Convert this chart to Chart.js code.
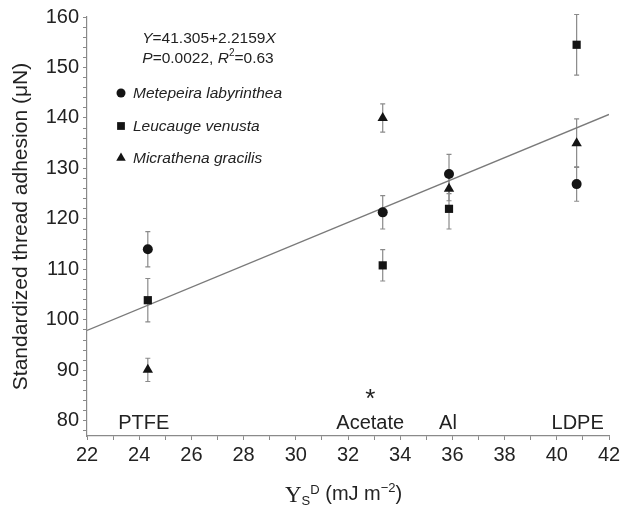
<!DOCTYPE html>
<html>
<head>
<meta charset="utf-8">
<script src="https://cdn.jsdelivr.net/npm/chart.js@4.4.0/dist/chart.umd.min.js"></script>
<style>
  html, body { margin: 0; padding: 0; background: #fff; }
  #wrap { width: 632px; height: 506px; }
</style>
</head>
<body>
<div id="wrap"><canvas id="chart"></canvas></div>
<script>
// surfaces and their dispersive surface energy (x)
const surfaces = ['PTFE', 'Acetate', 'Al', 'LDPE'];
const surfaceEnergy = [24.33, 33.33, 35.87, 40.76];

// standardized thread adhesion per species (y) with error bars
const metepeira = [114.0, 121.3, 128.9, 126.9];
const metepeiraErr = [3.5, 3.3, 3.9, 3.4];
const leucauge = [103.9, 110.8, 122.0, 154.5];
const leucaugeErr = [4.3, 3.1, 4.0, 6.0];
const micrathena = [90.1, 140.0, 126.0, 135.0];
const micrathenaErr = [2.3, 2.8, 2.4, 4.8];

// regression line as drawn
const fitX = [22, 42];
const fitY = [97.9, 140.7];

// axis ticks
const xMajor = [22, 24, 26, 28, 30, 32, 34, 36, 38, 40, 42];
const yMajor = [80, 90, 100, 110, 120, 130, 140, 150, 160];

const SANS = "'Liberation Sans', Arial, sans-serif";
const SERIF = "'Liberation Serif', 'Times New Roman', serif";
const INK = '#141414';
const TEXT = '#222';
const AXIS = '#8a8a8a';

const species = [
  { label: 'Metepeira labyrinthea', values: metepeira, err: metepeiraErr, style: 'circle', radius: 5 },
  { label: 'Leucauge venusta', values: leucauge, err: leucaugeErr, style: 'rect', radius: 5.8 },
  { label: 'Micrathena gracilis', values: micrathena, err: micrathenaErr, style: 'triangle', radius: 6 }
];

function toPoints(xs, ys) {
  return xs.map((x, i) => ({ x: x, y: ys[i] }));
}

const datasets = species.map(s => ({
  label: s.label,
  data: toPoints(surfaceEnergy, s.values),
  pointStyle: s.style,
  pointRadius: s.radius,
  pointBackgroundColor: INK,
  pointBorderColor: INK,
  pointBorderWidth: 0,
  showLine: false,
  order: 1
}));

datasets.unshift({
  label: 'fit',
  type: 'line',
  data: toPoints(fitX, fitY),
  borderColor: '#7a7a7a',
  borderWidth: 1.3,
  pointRadius: 0,
  fill: false,
  order: 2
});

// error bars, drawn under the markers
const errorBars = {
  id: 'errorBars',
  beforeDatasetsDraw(chart) {
    const { ctx, scales: { x, y } } = chart;
    ctx.save();
    ctx.strokeStyle = AXIS;
    ctx.lineWidth = 1.2;
    species.forEach(s => {
      s.values.forEach((v, i) => {
        const px = x.getPixelForValue(surfaceEnergy[i]);
        const top = y.getPixelForValue(v + s.err[i]);
        const bot = y.getPixelForValue(v - s.err[i]);
        ctx.beginPath();
        ctx.moveTo(px, top); ctx.lineTo(px, bot);
        ctx.moveTo(px - 2.5, top); ctx.lineTo(px + 2.5, top);
        ctx.moveTo(px - 2.5, bot); ctx.lineTo(px + 2.5, bot);
        ctx.stroke();
      });
    });
    ctx.restore();
  }
};

function drawRuns(ctx, runs, startX) {
  let cx = startX;
  runs.forEach(r => {
    ctx.font = r.font;
    ctx.fillText(r.t, cx, r.y);
    cx += ctx.measureText(r.t).width;
  });
  return cx;
}

function runsWidth(ctx, runs) {
  let w = 0;
  runs.forEach(r => { ctx.font = r.font; w += ctx.measureText(r.t).width; });
  return w;
}

function marker(ctx, style, cx, cy, r) {
  ctx.beginPath();
  if (style === 'circle') {
    ctx.arc(cx, cy, r, 0, Math.PI * 2);
  } else if (style === 'rect') {
    const h = r * Math.SQRT1_2;
    ctx.rect(cx - h, cy - h, 2 * h, 2 * h);
  } else {
    ctx.moveTo(cx, cy - r);
    ctx.lineTo(cx + r * 0.866, cy + r * 0.5);
    ctx.lineTo(cx - r * 0.866, cy + r * 0.5);
    ctx.closePath();
  }
  ctx.fill();
}

// equation, legend, surface names, asterisk and x title
const annotations = {
  id: 'annotations',
  afterDraw(chart) {
    const { ctx, scales: { x, y } } = chart;
    ctx.save();
    ctx.fillStyle = TEXT;
    ctx.textBaseline = 'alphabetic';
    ctx.textAlign = 'left';

    const it = 'italic 15.5px ' + SANS;
    const rg = '15.5px ' + SANS;
    const eq1 = [
      { t: 'Y', font: it, y: 43 },
      { t: '=41.305+2.2159', font: rg, y: 43 },
      { t: 'X', font: it, y: 43 }
    ];
    const eq2 = [
      { t: 'P', font: it, y: 63 },
      { t: '=0.0022, ', font: rg, y: 63 },
      { t: 'R', font: it, y: 63 },
      { t: '2', font: '10px ' + SANS, y: 56 },
      { t: '=0.63', font: rg, y: 63 }
    ];
    drawRuns(ctx, eq1, 209 - runsWidth(ctx, eq1) / 2);
    drawRuns(ctx, eq2, 208 - runsWidth(ctx, eq2) / 2);

    // legend
    const rowY = [93, 126, 158];
    species.forEach((s, i) => {
      ctx.fillStyle = INK;
      marker(ctx, s.style, 121, rowY[i], s.style === 'circle' ? 4.5 : 5.5);
      ctx.fillStyle = TEXT;
      ctx.font = it;
      ctx.textBaseline = 'middle';
      ctx.fillText(s.label, 133, rowY[i] + 1);
    });

    // surface names above the x axis
    const nudge = [-4, -12.5, -1, 1];
    ctx.font = '20px ' + SANS;
    ctx.textAlign = 'center';
    ctx.textBaseline = 'middle';
    surfaces.forEach((name, i) => {
      ctx.fillText(name, x.getPixelForValue(surfaceEnergy[i]) + nudge[i], 423);
    });
    // significance mark for acetate
    ctx.font = '26px ' + SANS;
    ctx.textBaseline = 'alphabetic';
    ctx.fillText('*', x.getPixelForValue(surfaceEnergy[1]) + nudge[1], 407);

    // x axis title
    ctx.textAlign = 'left';
    const xt = [
      { t: 'Y', font: '23px ' + SERIF, y: 502 },
      { t: 'S', font: '13px ' + SANS, y: 505 },
      { t: 'D', font: '13px ' + SANS, y: 494 },
      { t: ' (mJ m', font: '20px ' + SANS, y: 500 },
      { t: '\u22122', font: '13px ' + SANS, y: 492 },
      { t: ')', font: '20px ' + SANS, y: 500 }
    ];
    drawRuns(ctx, xt, 285);
    ctx.restore();
  }
};

const axisGrid = {
  display: true,
  drawOnChartArea: false,
  drawTicks: true,
  tickLength: 4,
  color: AXIS,
  lineWidth: 1
};

new Chart(document.getElementById('chart'), {
  type: 'scatter',
  data: { datasets: datasets },
  options: {
    responsive: true,
    maintainAspectRatio: false,
    animation: false,
    layout: { padding: { left: 0, right: 23, top: 17, bottom: 0 } },
    plugins: {
      legend: { display: false },
      tooltip: { enabled: false }
    },
    scales: {
      x: {
        type: 'linear',
        min: 22,
        max: 42,
        afterFit(scale) { scale.height = 70; },
        border: { display: true, color: AXIS, width: 1.2 },
        grid: axisGrid,
        ticks: {
          stepSize: 1,
          autoSkip: false,
          maxRotation: 0,
          padding: 3,
          color: TEXT,
          font: { family: SANS, size: 20 },
          callback: v => xMajor.includes(v) ? String(v) : ''
        }
      },
      y: {
        min: 77,
        max: 160,
        afterFit(scale) { scale.width = 87; },
        border: { display: true, color: AXIS, width: 1.2 },
        grid: axisGrid,
        ticks: {
          stepSize: 2,
          includeBounds: false,
          autoSkip: false,
          padding: 4,
          color: TEXT,
          font: { family: SANS, size: 20 },
          callback: v => yMajor.includes(v) ? String(v) : ''
        },
        title: {
          display: true,
          text: 'Standardized thread adhesion (\u03bcN)',
          color: TEXT,
          font: { family: SANS, size: 21 },
          padding: { top: 9, bottom: 0 }
        }
      }
    }
  },
  plugins: [errorBars, annotations]
});
</script>
</body>
</html>
